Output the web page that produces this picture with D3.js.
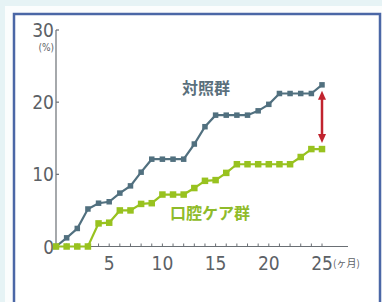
<!DOCTYPE html>
<html>
<head>
<meta charset="utf-8">
<script src="https://cdn.jsdelivr.net/npm/d3@7"></script>
<style>
  html, body { margin: 0; padding: 0; background: #e6f3f5; }
  svg { display: block; }
</style>
</head>
<body>
<div id="chart"></div>
<script>

// months 0..25
var months = d3.range(0, 26);

// 対照群
var controlValues = [0, 1.2, 2.5, 5.2, 6.0, 6.2, 7.4, 8.4, 10.3, 12.1, 12.1, 12.1, 12.1,
    14.2, 16.6, 18.2, 18.2, 18.2, 18.2, 18.8, 19.7, 21.2, 21.2, 21.2, 21.2, 22.4];

// 口腔ケア群
var oralCareValues = [0, 0, 0, 0, 3.2, 3.3, 5.0, 5.0, 5.9, 6.0, 7.2, 7.2, 7.2,
    8.1, 9.1, 9.2, 10.2, 11.4, 11.4, 11.4, 11.4, 11.4, 11.4, 12.4, 13.5, 13.5];

var yTicks = [0, 10, 20, 30];
var xTickLabels = [5, 10, 15, 20, 25];

var full_width = 382, full_height = 302;
var numFont = "'Liberation Sans Narrow', 'DejaVu Sans Condensed', 'Noto Sans', sans-serif";
var cjkFont = "'Noto Sans CJK JP', sans-serif";

var grayColor = "#51707f";
var greenColor = "#98c21f";
var axisColor = "#6a6f74";

var svg = d3.select("#chart")
    .append("svg")
    .attr("width", full_width)
    .attr("height", full_height);

// panel
svg.append("rect")
    .attr("x", 5).attr("y", 6)
    .attr("width", full_width - 5).attr("height", full_height)
    .style("fill", "#fbfdfd");

svg.append("rect")
    .attr("x", 14).attr("y", 14)
    .attr("width", 366).attr("height", 300)
    .style("fill", "#ffffff")
    .style("stroke", "#4b67a6")
    .style("stroke-width", 2.5);

var x = d3.scaleLinear().domain([0, 25]).range([56, 322]);
var y = d3.scaleLinear().domain([0, 30]).range([246.5, 30]);

var chart = svg.append("g");

// y axis
chart.append("line")
    .attr("x1", x(0)).attr("x2", x(0))
    .attr("y1", y(30)).attr("y2", y(0))
    .style("stroke", axisColor).style("stroke-width", 1.2);

chart.selectAll(".ytick")
    .data(yTicks.filter(function(d){ return d > 0; }))
    .enter().append("line")
    .attr("x1", x(0)).attr("x2", x(0) + 3)
    .attr("y1", function(d){ return y(d); })
    .attr("y2", function(d){ return y(d); })
    .style("stroke", axisColor).style("stroke-width", 1.2);

chart.selectAll(".ylabel")
    .data(yTicks)
    .enter().append("text")
    .attr("x", x(0) - 2)
    .attr("y", function(d){ return y(d) + 7; })
    .attr("text-anchor", "end")
    .style("font-family", numFont)
    .style("font-size", "19px")
    .style("fill", "#5c6166")
    .text(function(d){ return d; });

chart.append("text")
    .attr("x", x(0) - 2).attr("y", y(30) + 21)
    .attr("text-anchor", "end")
    .style("font-family", numFont)
    .style("font-size", "10px")
    .style("fill", "#5c6166")
    .text("(%)");

// x axis
chart.append("line")
    .attr("x1", x(0)).attr("x2", 348)
    .attr("y1", y(0)).attr("y2", y(0))
    .style("stroke", axisColor).style("stroke-width", 1.2);

chart.selectAll(".xtick")
    .data(months.filter(function(d){ return d > 0; }))
    .enter().append("line")
    .attr("x1", function(d){ return x(d); })
    .attr("x2", function(d){ return x(d); })
    .attr("y1", y(0)).attr("y2", y(0) - 3)
    .style("stroke", axisColor).style("stroke-width", 1);

chart.selectAll(".xlabel")
    .data(xTickLabels)
    .enter().append("text")
    .attr("x", function(d){ return x(d); })
    .attr("y", y(0) + 23)
    .attr("text-anchor", "middle")
    .style("font-family", numFont)
    .style("font-size", "19px")
    .style("fill", "#5c6166")
    .text(function(d){ return d; });

chart.append("text")
    .attr("x", x(25) + 11).attr("y", y(0) + 20)
    .style("font-family", cjkFont)
    .style("font-size", "10px")
    .style("fill", "#5c6166")
    .text("(ヶ月)");

// series
var line = d3.line()
    .x(function(d, i){ return x(months[i]); })
    .y(function(d){ return y(d); });

function drawSeries(values, color, size){
    chart.append("path")
        .datum(values)
        .attr("d", line)
        .style("fill", "none")
        .style("stroke", color)
        .style("stroke-width", 2.2);

    chart.selectAll(null)
        .data(values)
        .enter().append("rect")
        .attr("x", function(d, i){ return x(months[i]) - size / 2; })
        .attr("y", function(d){ return y(d) - size / 2; })
        .attr("width", size).attr("height", size)
        .style("fill", color);
}

drawSeries(controlValues, grayColor, 5.5);
drawSeries(oralCareValues, greenColor, 6.5);

// difference arrow
var arrowX = x(25);
var arrowTop = y(controlValues[25]) + 6;
var arrowBottom = y(oralCareValues[25]) - 6;
var arrowColor = "#c1232e";

chart.append("line")
    .attr("x1", arrowX).attr("x2", arrowX)
    .attr("y1", arrowTop + 6).attr("y2", arrowBottom - 6)
    .style("stroke", arrowColor).style("stroke-width", 2.5);

chart.append("path")
    .attr("d", "M" + arrowX + "," + arrowTop + "l-4,9h8z")
    .style("fill", arrowColor);

chart.append("path")
    .attr("d", "M" + arrowX + "," + arrowBottom + "l-4,-9h8z")
    .style("fill", arrowColor);

// series labels
chart.append("text")
    .attr("x", 206).attr("y", 94)
    .attr("text-anchor", "middle")
    .style("font-family", cjkFont)
    .style("font-weight", "bold")
    .style("font-size", "16px")
    .style("fill", "#5a6f7c")
    .text("対照群");

chart.append("text")
    .attr("x", 210).attr("y", 219)
    .attr("text-anchor", "middle")
    .style("font-family", cjkFont)
    .style("font-weight", "bold")
    .style("font-size", "16px")
    .style("fill", "#8fbb2a")
    .text("口腔ケア群");

</script>
</body>
</html>
